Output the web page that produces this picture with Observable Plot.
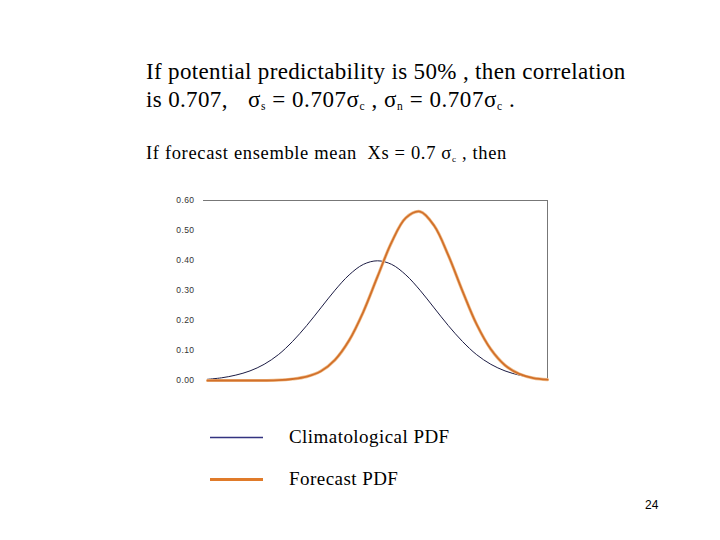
<!DOCTYPE html>
<html>
<head>
<meta charset="utf-8">
<script src="https://cdn.jsdelivr.net/npm/d3@7"></script>
<script src="https://cdn.jsdelivr.net/npm/@observablehq/plot@0.6"></script>
<style>
  html, body { margin: 0; padding: 0; background: #fff; }
  #page { position: relative; width: 720px; height: 540px; overflow: hidden; font-family: "Liberation Serif", "Times New Roman", serif; color: #000; }
  .t { position: absolute; white-space: nowrap; }
  sub { font-size: 0.5em; vertical-align: -0.3em; line-height: 0; }
  #chart { position: absolute; left: 160px; top: 185px; }
  #num { position: absolute; left: 645px; top: 498px; font-family: "Liberation Sans", Arial, sans-serif; font-size: 12px; }
</style>
</head>
<body>
<div id="page">
  <div class="t" style="left:146px; top:58px; font-size:23px; line-height:28px; letter-spacing:0.35px;">If potential predictability is 50% , then correlation<br>is 0.707,&nbsp; <span style="margin-left:8px; letter-spacing:0.55px;">σ<sub>s</sub> = 0.707σ<sub>c</sub> , σ<sub>n</sub> = 0.707σ<sub>c</sub> .</span></div>
  <div class="t" style="left:146px; top:143px; font-size:18.5px; letter-spacing:0.65px;">If forecast ensemble mean&nbsp; Xs = 0.7 σ<sub>c</sub> , then</div>
  <div id="chart"></div>
  <svg style="position:absolute; left:200px; top:420px;" width="80" height="80">
    <line x1="10" x2="63" y1="17.5" y2="17.5" stroke="#333380" stroke-width="1.6"/>
    <line x1="10" x2="63" y1="59.5" y2="59.5" stroke="#e07b2a" stroke-width="3"/>
  </svg>
  <div class="t" style="left:289px; top:426px; font-size:19px; letter-spacing:0.45px;">Climatological PDF</div>
  <div class="t" style="left:289px; top:468px; font-size:19px; letter-spacing:0.45px;">Forecast PDF</div>
  <div id="num">24</div>
</div>
<script>
// Climatological PDF
const climX = [-3, -2.75, -2.5, -2.25, -2, -1.75, -1.5, -1.25, -1, -0.75, -0.5, -0.25, 0, 0.25, 0.5, 0.75, 1, 1.25, 1.5, 1.75, 2, 2.25, 2.5, 2.75, 3];
const climY = [0.004, 0.009, 0.018, 0.032, 0.054, 0.086, 0.130, 0.183, 0.242, 0.301, 0.352, 0.387, 0.399, 0.387, 0.352, 0.301, 0.242, 0.183, 0.130, 0.086, 0.054, 0.032, 0.018, 0.009, 0.004];
// Forecast PDF
const fcX = [-3, -2.75, -2.5, -2.25, -2, -1.75, -1.5, -1.25, -1, -0.75, -0.5, -0.25, 0, 0.25, 0.5, 0.75, 1, 1.25, 1.5, 1.75, 2, 2.25, 2.5, 2.75, 3];
const fcY = [0.000, 0.000, 0.000, 0.000, 0.000, 0.001, 0.005, 0.013, 0.031, 0.069, 0.134, 0.229, 0.346, 0.461, 0.542, 0.563, 0.516, 0.417, 0.298, 0.187, 0.104, 0.051, 0.022, 0.008, 0.003];
const yTicks = [0, 0.1, 0.2, 0.3, 0.4, 0.5, 0.6];
const xDomain = [-3, 3];

const clim = climX.map((x, i) => ({x, y: climY[i]}));
const fc = fcX.map((x, i) => ({x, y: fcY[i]}));

const chart = Plot.plot({
  width: 400,
  height: 210,
  marginLeft: 47,
  marginRight: 13,
  marginTop: 15,
  marginBottom: 15,
  style: { fontFamily: "'Liberation Sans', Arial, sans-serif", fontSize: "8.5px", color: "#333", background: "#fff", letterSpacing: "0.4px" },
  x: { domain: xDomain, axis: null },
  y: { domain: [0, 0.6], ticks: yTicks, tickFormat: d => d.toFixed(2), tickSize: 0, tickPadding: 13, label: null },
  marks: [
    Plot.ruleY([0.6], { x1: -3.07, x2: 3, stroke: "#777", strokeWidth: 1 }),
    Plot.ruleX([3], { y1: 0, y2: 0.6, stroke: "#777", strokeWidth: 1 }),
    Plot.line(clim, { x: "x", y: "y", stroke: "#1c1c44", strokeWidth: 1, curve: "catmull-rom" }),
    Plot.line(fc, { x: "x", y: "y", stroke: "#f0c090", strokeWidth: 3.2, curve: "catmull-rom" }),
    Plot.line(fc, { x: "x", y: "y", stroke: "#d2702a", strokeWidth: 1.8, curve: "catmull-rom" })
  ]
});
document.getElementById("chart").appendChild(chart);
</script>
</body>
</html>
